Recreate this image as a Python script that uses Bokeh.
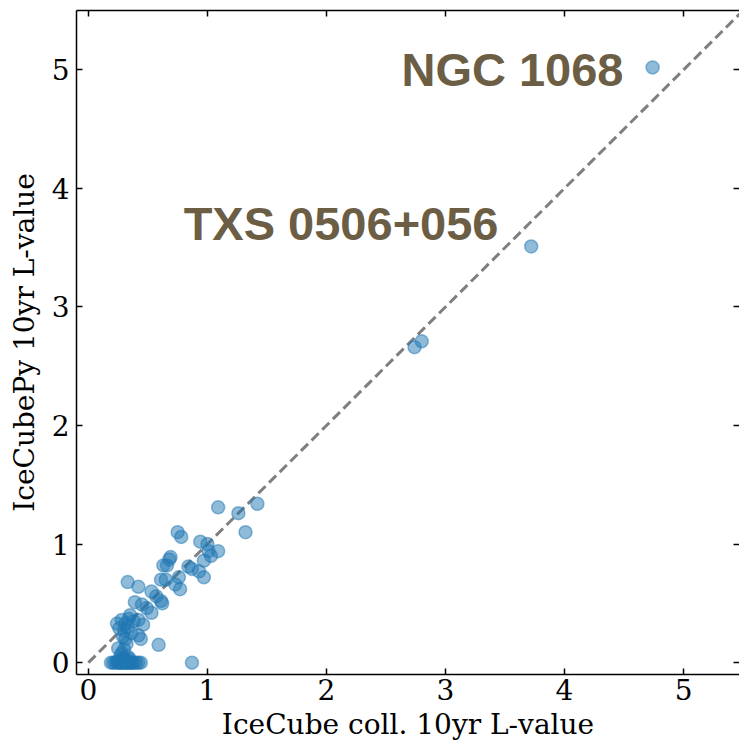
from bokeh.plotting import figure
from bokeh.models import LinearAxis, FixedTicker, ColumnDataSource
from bokeh.core.properties import value
from bokeh.embed import file_html
from bokeh.resources import INLINE

# IceCube collaboration 10yr L-values (x) vs IceCubePy 10yr L-values (y)
icecube_coll = [
    4.74, 3.72, 2.74, 2.80, 1.42, 1.26, 1.09, 1.32, 0.87,
    0.75, 0.78, 0.94, 1.00, 1.01, 1.09, 1.03, 0.97, 0.69, 0.68,
    0.63, 0.66, 0.84, 0.87, 0.93, 0.97, 0.61, 0.65, 0.76, 0.73,
    0.77, 0.33, 0.42, 0.53, 0.57, 0.61, 0.62, 0.39, 0.45, 0.49,
    0.53, 0.28, 0.34, 0.31, 0.38, 0.26, 0.30, 0.42, 0.46, 0.42,
    0.44, 0.59, 0.31, 0.32, 0.25, 0.30, 0.27, 0.29, 0.35, 0.33,
    0.36, 0.24, 0.29, 0.28, 0.33,
    0.19, 0.21, 0.23, 0.24, 0.25, 0.26, 0.27, 0.28, 0.29, 0.30,
    0.31, 0.32, 0.33, 0.34, 0.35, 0.36, 0.37, 0.38, 0.40, 0.42,
    0.44, 0.30, 0.27, 0.33, 0.35, 0.31,
]
icecubepy = [
    5.02, 3.51, 2.66, 2.71, 1.34, 1.26, 1.31, 1.10, 0.00,
    1.10, 1.06, 1.02, 1.00, 0.94, 0.94, 0.90, 0.86, 0.89, 0.87,
    0.82, 0.82, 0.81, 0.79, 0.77, 0.72, 0.70, 0.70, 0.72, 0.66,
    0.62, 0.68, 0.64, 0.60, 0.56, 0.52, 0.50, 0.51, 0.49, 0.46,
    0.42, 0.36, 0.37, 0.33, 0.35, 0.29, 0.27, 0.36, 0.32, 0.23,
    0.20, 0.15, 0.20, 0.16, 0.12, 0.11, 0.06, 0.04, 0.40, 0.30,
    0.25, 0.33, 0.22, 0.08, 0.05,
    0.00, 0.00, 0.00, 0.01, 0.00, 0.00, 0.02, 0.00, 0.00, 0.00,
    0.03, 0.00, 0.00, 0.01, 0.00, 0.00, 0.00, 0.00, 0.00, 0.00,
    0.00, 0.02, 0.00, 0.00, 0.03, 0.01,
]

# Annotated sources
label_names = ["NGC 1068", "TXS 0506+056"]
label_x = [2.63, 0.80]
label_y = [5.0, 3.70]

x_title = "IceCube coll. 10yr L-value"
y_title = "IceCubePy 10yr L-value"

diag = [0.0, 5.6]
tick_values = [0, 1, 2, 3, 4, 5]

p = figure(width=739, height=743, x_range=(-0.1, 5.47), y_range=(-0.1, 5.5),
           output_backend="svg", toolbar_location=None,
           min_border_left=76, min_border_right=0, min_border_top=10,
           min_border_bottom=69)
p.outline_line_color = None
p.xgrid.visible = False
p.ygrid.visible = False
p.background_fill_color = "white"
p.border_fill_color = "white"

def style_axis(ax, labels=True):
    ax.ticker = FixedTicker(ticks=tick_values)
    ax.major_tick_in = 6
    ax.major_tick_out = 0
    ax.minor_tick_line_color = None
    ax.axis_line_color = "black"
    ax.axis_line_width = 1.5
    ax.major_tick_line_width = 1.5
    ax.major_tick_line_color = "black"
    if labels:
        ax.major_label_text_font = "DejaVu Serif"
        ax.major_label_text_font_size = "28px"
        ax.major_label_text_color = "black"
        ax.axis_label_text_font = "DejaVu Serif"
        ax.axis_label_text_font_size = "28px"
        ax.axis_label_text_font_style = "normal"
        ax.axis_label_text_color = "black"
    else:
        ax.major_label_text_font_size = "1px"
        ax.major_label_text_color = None
        ax.major_label_standoff = 0
        ax.axis_label = None

xa = p.xaxis[0]
ya = p.yaxis[0]
style_axis(xa)
style_axis(ya)
xa.axis_label = x_title
ya.axis_label = y_title
xa.major_label_standoff = 4
ya.major_label_standoff = 7
xa.axis_label_standoff = 5
ya.axis_label_standoff = 8

top = LinearAxis()
style_axis(top, labels=False)
p.add_layout(top, "above")
right = LinearAxis()
style_axis(right, labels=False)
right.axis_line_color = None
p.add_layout(right, "right")

p.line(diag, diag, line_color="#7f7f7f", line_width=3, line_dash="10 5")

src = ColumnDataSource(dict(x=icecube_coll, y=icecubepy))
p.scatter("x", "y", source=src, size=13, fill_color="#1f77b4", fill_alpha=0.5,
          line_color="#1f77b4", line_alpha=0.5, line_width=1.5)

p.text(x=label_x, y=label_y, text=label_names, text_font=value("Liberation Sans"),
       text_font_style="bold", text_font_size="47px", text_color="#6b5e45",
       text_baseline="alphabetic", text_align="left")

open("out.html", "w").write(file_html(p, INLINE))
